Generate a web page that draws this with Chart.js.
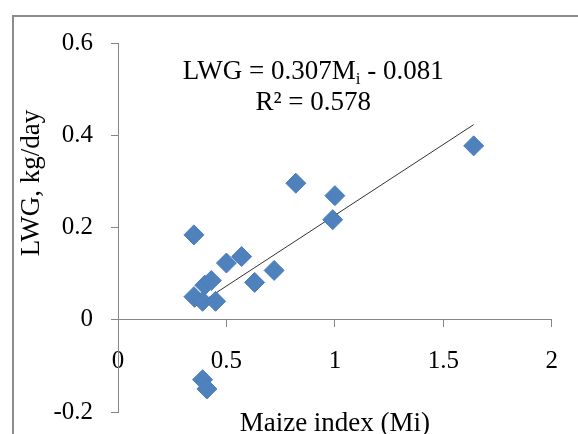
<!DOCTYPE html>
<html>
<head>
<meta charset="utf-8">
<script src="https://cdn.jsdelivr.net/npm/chart.js@4/dist/chart.umd.min.js"></script>
<style>
  body { margin: 0; background: #fff; }
  #wrap { width: 578px; height: 434px; }
</style>
</head>
<body>
<div id="wrap"><canvas id="graficoLwg" width="578" height="434"></canvas></div>
<script>
// maize index (x) and live weight gain (y)
const maizeIndex = [0.35, 0.35, 0.39, 0.40, 0.43, 0.45, 0.50, 0.57, 0.63, 0.72, 0.82, 0.99, 1.00, 0.39, 0.41, 1.64];
const lwg        = [0.184, 0.050, 0.040, 0.075, 0.085, 0.040, 0.123, 0.137, 0.081, 0.107, 0.296, 0.217, 0.269, -0.130, -0.150, 0.377];

// ends of the trend line
const trendX = [0.35, 1.64];
const trendY = [0.027, 0.423];

const xTickLabels = ['0', '0.5', '1', '1.5', '2'];
const yTickLabels = ['-0.2', '0', '0.2', '0.4', '0.6'];

const equationText = ['LWG = 0.307M', 'i', ' - 0.081'];
const r2Text = 'R\u00B2 = 0.578';
const xTitle = 'Maize index (Mi)';
const yTitle = 'LWG, kg/day';

const serif = '"Liberation Serif", "Times New Roman", serif';
const axisGrey = '#868686';

// frame, axis titles and the equation
const textosPlugin = {
  id: 'textos',
  beforeDraw: function (chart) {
    const c = chart.ctx;
    c.save();
    c.fillStyle = '#fff';
    c.fillRect(0, 0, chart.width, chart.height);
    c.restore();
  },
  afterDraw: function (chart) {
    const c = chart.ctx;
    const area = chart.chartArea;
    const sx = chart.scales.x, sy = chart.scales.y;
    c.save();

    c.strokeStyle = '#8c8c8c';
    c.lineWidth = 2;
    c.strokeRect(13, 16, 800, 600);

    c.fillStyle = '#000';
    c.textBaseline = 'middle';

    // equation, centred
    c.font = '27px ' + serif;
    const w1 = c.measureText(equationText[0]).width;
    const w3 = c.measureText(equationText[2]).width;
    c.font = '17px ' + serif;
    const w2 = c.measureText(equationText[1]).width;
    const cx = sx.getPixelForValue(0.9);
    const ey = sy.getPixelForValue(0.538);
    let x0 = cx - (w1 + w2 + w3) / 2;
    c.textAlign = 'left';
    c.font = '27px ' + serif;
    c.fillText(equationText[0], x0, ey);
    c.font = '17px ' + serif;
    c.fillText(equationText[1], x0 + w1, ey + 8);
    c.font = '27px ' + serif;
    c.fillText(equationText[2], x0 + w1 + w2, ey);

    c.textAlign = 'center';
    c.fillText(r2Text, cx, sy.getPixelForValue(0.47));

    // x title
    c.fillText(xTitle, (area.left + area.right) / 2, 424);

    // y title
    c.translate(32, 183);
    c.rotate(-Math.PI / 2);
    c.fillText(yTitle, 0, 0);

    c.restore();
  }
};

const ctx = document.getElementById('graficoLwg');
new Chart(ctx, {
  data: {
    datasets: [{
      type: 'scatter',
      data: maizeIndex.map(function (v, i) { return { x: v, y: lwg[i] }; }),
      pointStyle: 'rectRot',
      pointRadius: 10,
      pointBorderWidth: 1,
      backgroundColor: '#4F81BD',
      borderColor: '#4A7EBB'
    }, {
      type: 'line',
      data: trendX.map(function (v, i) { return { x: v, y: trendY[i] }; }),
      borderColor: '#333',
      borderWidth: 1,
      pointRadius: 0,
      fill: false
    }]
  },
  options: {
    responsive: false,
    animation: false,
    layout: { padding: { top: 43, right: 26, bottom: 22, left: 0 } },
    plugins: {
      legend: { display: false },
      tooltip: { enabled: false }
    },
    scales: {
      x: {
        type: 'linear',
        position: { y: 0 },
        min: 0,
        max: 2,
        ticks: {
          stepSize: 0.5,
          padding: 20,
          color: '#000',
          font: { family: serif, size: 25 },
          callback: function (v, i) { return xTickLabels[i]; }
        },
        grid: { drawOnChartArea: false, drawTicks: true, tickLength: 7, tickColor: axisGrey },
        border: { display: true, color: axisGrey },
        afterFit: function (axis) { axis.height = 0; }
      },
      y: {
        type: 'linear',
        position: 'left',
        min: -0.2,
        max: 0.6,
        ticks: {
          stepSize: 0.2,
          padding: 18,
          color: '#000',
          font: { family: serif, size: 25 },
          callback: function (v, i) { return yTickLabels[i]; }
        },
        grid: { drawOnChartArea: false, drawTicks: true, tickLength: 7, tickColor: axisGrey },
        border: { display: true, color: axisGrey },
        afterFit: function (axis) {
          axis.width = 118;
          axis.paddingTop = 0;
          axis.paddingBottom = 0;
        }
      }
    }
  },
  plugins: [textosPlugin]
});
</script>
</body>
</html>
